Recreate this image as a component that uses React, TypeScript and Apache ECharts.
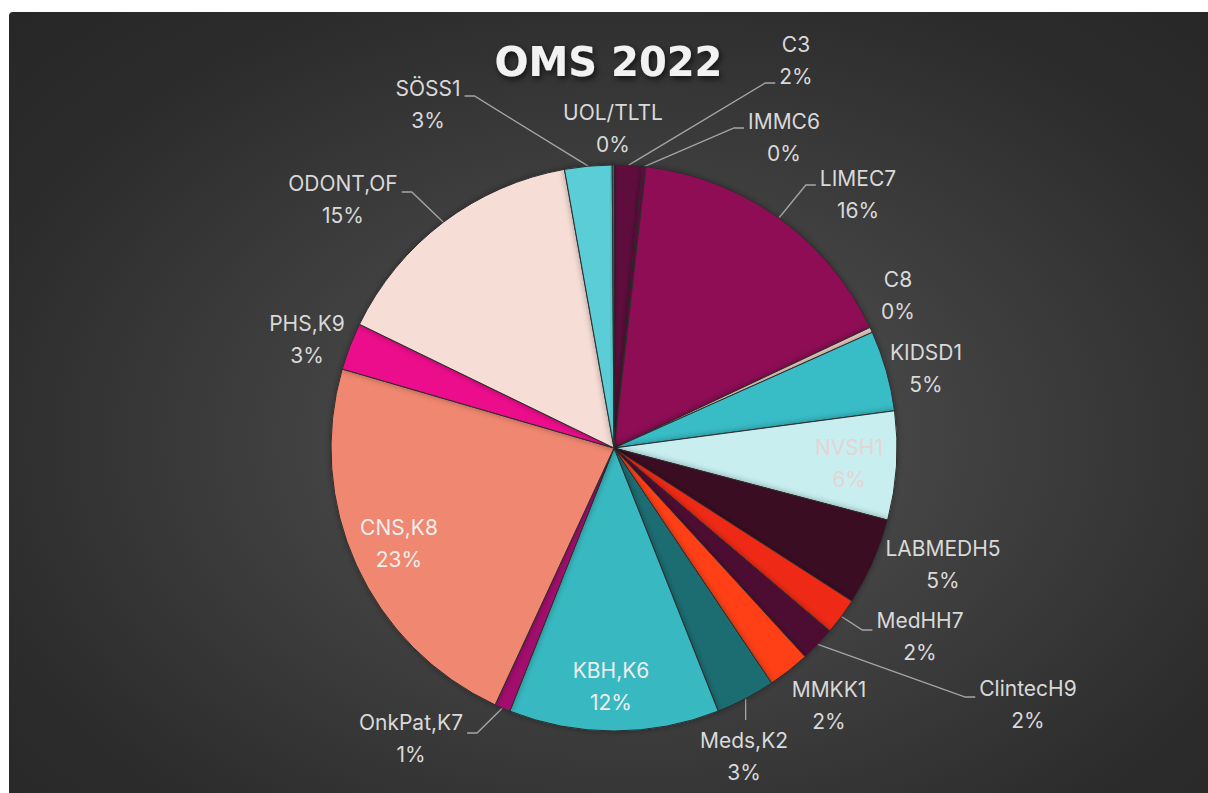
import React, { useEffect, useRef } from "react";
import * as echarts from "echarts";

// ---- data ----
const categories = [
  "C3", "IMMC6", "LIMEC7", "C8", "KIDSD1", "NVSH1", "LABMEDH5", "MedHH7", "ClintecH9",
  "MMKK1", "Meds,K2", "KBH,K6", "OnkPat,K7", "CNS,K8", "PHS,K9", "ODONT,OF", "SÖSS1", "UOL/TLTL",
];
const values = [16, 2, 162, 3, 46, 62, 50, 21, 20, 24, 34, 120, 9, 226, 27, 150, 27, 1];

// ---- styles ----
const colors = [
  "#5e0b3e", "#6a0a45", "#8e0a55", "#ecc9c0", "#38bcc6", "#c8eef0", "#3a0a22", "#ee2c16", "#4e0a33",
  "#ff3f14", "#1e6d72", "#38b8c0", "#a3106e", "#f0876f", "#ec0c8c", "#f6ddd6", "#5acdd6", "#3a9aa0",
];
const insideColor: Record<string, string> = { NVSH1: "#e4d4d4", "CNS,K8": "#eeeeee", "KBH,K6": "#eeeeee" };

// label placement: [x, y, lineSide, lineDy]
const labelPlace: Record<string, [number, number, string, number]> = {
  C3: [787, 48, "l", 23],
  IMMC6: [775, 125, "l", -9],
  LIMEC7: [849, 182, "l", -9],
  C8: [889, 283, "", 0],
  KIDSD1: [917, 356, "", 0],
  NVSH1: [840, 451, "", 0],
  LABMEDH5: [934, 552, "", 0],
  MedHH7: [911, 624, "l", -6],
  ClintecH9: [1019, 692, "l", -7],
  MMKK1: [820, 693, "", 0],
  "Meds,K2": [735, 744, "t", 0],
  "KBH,K6": [602, 674, "", 0],
  "OnkPat,K7": [402, 726, "r", -5],
  "CNS,K8": [390, 531, "", 0],
  "PHS,K9": [298, 327, "", 0],
  "ODONT,OF": [334, 187, "r", -7],
  "SÖSS1": [419, 92, "r", -8],
  "UOL/TLTL": [604, 116, "", 0],
};

const CX = 605;
const CY = 436;
const R = 283;

export default function App() {
  const ref = useRef<HTMLDivElement>(null);
  useEffect(() => {
    if (!ref.current) return;
    const chart = echarts.init(ref.current, undefined, { renderer: "svg" });
    const total = values.reduce((a, b) => a + b, 0);
    const mids: number[] = [];
    let cum = 0;
    values.forEach((v) => {
      mids.push(((cum + v / 2) / total) * Math.PI * 2);
      cum += v;
    });

    const data = categories.map((name, i) => {
      const place = labelPlace[name];
      const item: any = {
        name,
        value: values[i],
        itemStyle: { color: colors[i] },
      };
      if (!place[2]) item.labelLine = { show: false };
      if (insideColor[name]) item.label = { color: insideColor[name] };
      return item;
    });

    chart.setOption({
      animation: false,
      backgroundColor: "transparent",
      title: {
        text: "OMS 2022",
        left: "center",
        top: 25,
        textStyle: {
          color: "#f2f2f2",
          fontFamily: "DejaVu Sans",
          fontWeight: "bold",
          fontSize: 40,
          textShadowColor: "rgba(0,0,0,0.65)",
          textShadowBlur: 6,
          textShadowOffsetX: 2,
          textShadowOffsetY: 3,
        },
      },
      series: [
        {
          type: "pie",
          center: [CX, CY],
          radius: R,
          startAngle: 90,
          clockwise: true,
          avoidLabelOverlap: false,
          itemStyle: {
            borderColor: "#2e2e2e",
            borderWidth: 1,
            shadowColor: "rgba(0,0,0,0.35)",
            shadowBlur: 6,
          },
          label: {
            show: true,
            position: "outside",
            color: "#d9d9d9",
            fontFamily: "Inter",
            fontSize: 21,
            lineHeight: 32,
            align: "center",
            formatter: (p: any) => `${p.name}\n${Math.round(p.percent)}%`,
          },
          labelLine: {
            show: true,
            length: 10,
            length2: 10,
            lineStyle: { color: "#a6a6a6", width: 1.3 },
          },
          labelLayout: (p: any) => {
            const name = categories[p.dataIndex];
            const [lx, ly, side, dy] = labelPlace[name];
            const res: any = { x: lx, y: ly, align: "center", verticalAlign: "middle" };
            if (side) {
              const th = mids[p.dataIndex];
              const ax = CX + R * Math.sin(th);
              const ay = CY - R * Math.cos(th);
              const w = p.labelRect.width;
              const h = p.labelRect.height;
              if (side === "t") {
                const top = ly - h / 2 - 4;
                res.labelLinePoints = [[ax, ay], [ax, (ay + top) / 2], [ax, top]];
              } else if (side === "r") {
                const ex = lx + w / 2 + 4;
                const ey = ly + dy;
                res.labelLinePoints = [[ax, ay], [ex + 10, ey], [ex, ey]];
              } else {
                const ex = lx - w / 2 - 4;
                const ey = ly + dy;
                res.labelLinePoints = [[ax, ay], [ex - 10, ey], [ex, ey]];
              }
            }
            return res;
          },
          data,
        },
      ],
    });
    return () => chart.dispose();
  }, []);

  return (
    <div
      style={{
        position: "absolute",
        left: 9,
        top: 12,
        width: 1199,
        height: 781,
        borderTopLeftRadius: 4,
        background:
          "radial-gradient(ellipse 75% 80% at 52% 55%, #575757 0%, #3f3f3f 40%, #2c2c2c 75%, #262626 100%)",
      }}
    >
      <div ref={ref} style={{ width: 1199, height: 781 }} />
    </div>
  );
}
